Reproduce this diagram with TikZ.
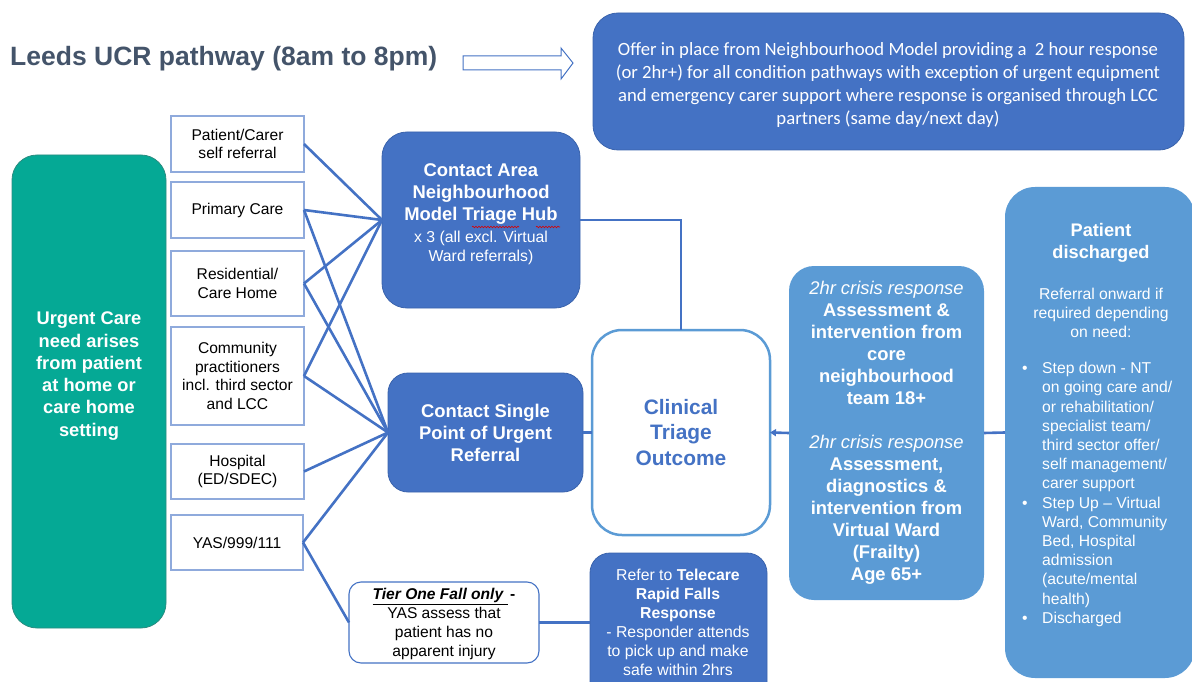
\documentclass[tikz,border=0pt]{standalone}
\usepackage{fontspec}
\setmainfont{Liberation Sans}
\newfontfamily\calibri{Carlito}
\usetikzlibrary{arrows.meta,decorations.pathmorphing}
\definecolor{dblue}{HTML}{4472C4}
\definecolor{dbord}{HTML}{3A63AC}
\definecolor{lblue}{HTML}{5B9BD5}
\definecolor{tealc}{HTML}{05A995}
\definecolor{tealb}{HTML}{2A8C80}
\definecolor{srcb}{HTML}{8FAADC}
\definecolor{titlec}{HTML}{44546A}
\begin{document}
\begin{tikzpicture}[x=1pt,y=-1pt,
  boxbase/.style={anchor=north west, inner sep=0pt, outer sep=0pt},
  srcbox/.style={boxbase, draw=srcb, line width=1.3pt, fill=white, align=center,
     minimum width=133pt, font=\fontsize{15.6}{18.8}\selectfont},
  darkbox/.style={boxbase, fill=dblue, draw=dbord, line width=0.8pt, rounded corners=#1},
  lightbox/.style={boxbase, fill=lblue, rounded corners=#1},
  wtext/.style={text=white, align=center, inner sep=0pt},
  conn/.style={draw=dblue, line width=2.6pt},
]
\useasboundingbox (0,0) rectangle (1192,682);
\clip (0,0) rectangle (1192,682);

% title and arrow
\node[anchor=base west, inner sep=0pt, text=titlec, font=\fontsize{26.5}{30}\selectfont\bfseries] (title) at (10,66) {Leeds UCR pathway (8am to 8pm)};
\draw[dblue, line width=1pt, fill=white] (463,56) -- (561,56) -- (561,48) -- (573,63) -- (561,79) -- (561,70) -- (463,70) -- cycle;

% top right box
\node[darkbox=25pt, minimum width=591pt, minimum height=137pt] (offer) at (593,13) {};
\node[wtext, font=\calibri\fontsize{18.7}{22.7}\selectfont] (offertxt) at (888,85)
 {Offer in place from Neighbourhood Model providing a \ 2 hour response\\
  (or 2hr+) for all condition pathways with exception of urgent equipment\\
  and emergency carer support where response is organised through LCC\\
  partners (same day/next day)};

% urgent care
\node[boxbase, fill=tealc, draw=tealb, line width=0.8pt, rounded corners=25pt, minimum width=154pt, minimum height=473pt] (urgent) at (12,155) {};
\node[wtext, font=\fontsize{18.3}{22.3}\selectfont\bfseries] (urgenttxt) at (89,376)
 {Urgent Care\\need arises\\from patient\\at home or\\care home\\setting};

% source boxes
\node[srcbox, minimum height=56pt] (pc) at (171,116) {Patient/Carer\\self referral};
\node[srcbox, minimum height=56pt] (prim) at (171,182) {Primary Care};
\node[srcbox, minimum height=65pt] (resid) at (171,251) {Residential/\\Care Home};
\node[srcbox, minimum height=98pt] (comm) at (171,327) {Community\\practitioners\\incl. third sector\\and LCC};
\node[srcbox, minimum height=55pt] (hosp) at (171,444) {Hospital\\(ED/SDEC)};
\node[srcbox, minimum height=55pt, minimum width=132pt] (yas) at (171,515) {YAS/999/111};

% hub
\node[darkbox=25pt, minimum width=198pt, minimum height=176pt] (hub) at (382,132) {};
\node[wtext, font=\fontsize{18.4}{22}\selectfont] (hubtxt) at (481,214)
 {\textbf{Contact Area}\\\textbf{Neighbourhood}\\\textbf{Model Triage Hub}\\
  {\fontsize{15.8}{19}\selectfont x 3 (all excl. Virtual}\\[-3pt]
  {\fontsize{15.8}{19}\selectfont Ward referrals)}};
\draw[red!85!black, line width=0.6pt, decorate, decoration={snake, amplitude=0.8pt, segment length=3pt}] (472,227) -- (519,227);
\draw[red!85!black, line width=0.6pt, decorate, decoration={snake, amplitude=0.8pt, segment length=3pt}] (536,227) -- (560,227);

% single point of urgent referral
\node[darkbox=20pt, minimum width=195pt, minimum height=119pt, wtext, font=\fontsize{18.4}{22}\selectfont\bfseries] (spur) at (388,373)
 {Contact Single\\Point of Urgent\\Referral};

% clinical triage outcome
\node[boxbase, fill=white, draw=lblue, line width=2.5pt, rounded corners=30pt, minimum width=178pt, minimum height=205pt,
  align=center, text=dblue, font=\fontsize{20.9}{25.5}\selectfont\bfseries] (clin) at (592,330)
 {Clinical\\Triage\\Outcome};

% crisis response
\node[lightbox=25pt, minimum width=195pt, minimum height=334pt, wtext, font=\fontsize{18.4}{22}\selectfont] (crisis) at (789,266)
 {\textit{2hr crisis response}\\\textbf{Assessment \&}\\\textbf{intervention from}\\\textbf{core}\\\textbf{neighbourhood}\\\textbf{team 18+}\\[22pt]
  \textit{2hr crisis response}\\\textbf{Assessment,}\\\textbf{diagnostics \&}\\\textbf{intervention from}\\\textbf{Virtual Ward}\\\textbf{(Frailty)}\\\textbf{Age 65+}};

% patient discharged
\node[lightbox=30pt, minimum width=190pt, minimum height=491pt] (disch) at (1005,187) {};
\node[wtext, font=\fontsize{18.2}{22}\selectfont\bfseries] (dischtitle) at (1101,243) {Patient\\discharged};
\node[wtext, font=\fontsize{15.7}{19}\selectfont] (dischref) at (1101,313) {Referral onward if\\required depending\\on need:};
\node[anchor=north west, inner sep=0pt, text=white, font=\fontsize{15.7}{19.2}\selectfont] (dischlist) at (1022,360)
 {\begin{tabular}{@{}p{20pt}@{}l@{}}
  \textbullet & Step down - NT\\
   & on going care and/\\
   & or rehabilitation/\\
   & specialist team/\\
   & third sector offer/\\
   & self management/\\
   & carer support\\
  \textbullet & Step Up -- Virtual\\
   & Ward, Community\\
   & Bed, Hospital\\
   & admission\\
   & (acute/mental\\
   & health)\\
  \textbullet & Discharged
 \end{tabular}};

% tier one fall
\node[boxbase, fill=white, draw=dblue, line width=1.1pt, rounded corners=12pt, minimum width=190pt, minimum height=81pt] (tier) at (349,582) {};
\node[align=center, inner sep=0pt, font=\fontsize{15.6}{19.2}\selectfont] (tiertxt) at (444,624)
 {\textbf{\textit{\underline{Tier One Fall only\ }}}\,\textbf{-}\\YAS assess that\\patient has no\\apparent injury};

% telecare
\node[darkbox=20pt, minimum width=177pt, minimum height=150pt] (tele) at (590,553) {};
\node[wtext, font=\fontsize{15.8}{19}\selectfont] (teletxt) at (678,622)
 {Refer to \textbf{Telecare}\\\textbf{Rapid Falls}\\\textbf{Response}\\- Responder attends\\to pick up and make\\safe within 2hrs};

% connectors
\draw[conn] (pc.east) -- (hub.west);
\draw[conn] (prim.east) -- (hub.west);
\draw[conn] (resid.east) -- (hub.west);
\draw[conn] (comm.east) -- (hub.west);
\draw[conn] (prim.east) -- (spur.west);
\draw[conn] (resid.east) -- (spur.west);
\draw[conn] (comm.east) -- (spur.west);
\draw[conn] (hosp.east) -- (spur.west);
\draw[conn] (yas.east) -- (spur.west);
\draw[conn] (yas.east) -- (tier.west);
\draw[conn] (hub.east) -| (clin.north);
\draw[conn] (spur.east) -- (clin.west);
\draw[conn, -{Triangle[length=6pt,width=7pt]}] (crisis.west) -- (clin.east);
\draw[conn] (disch.west) -- (crisis.east);
\draw[conn] (tier.east) -- (tier.east -| tele.west);
\end{tikzpicture}
\end{document}
